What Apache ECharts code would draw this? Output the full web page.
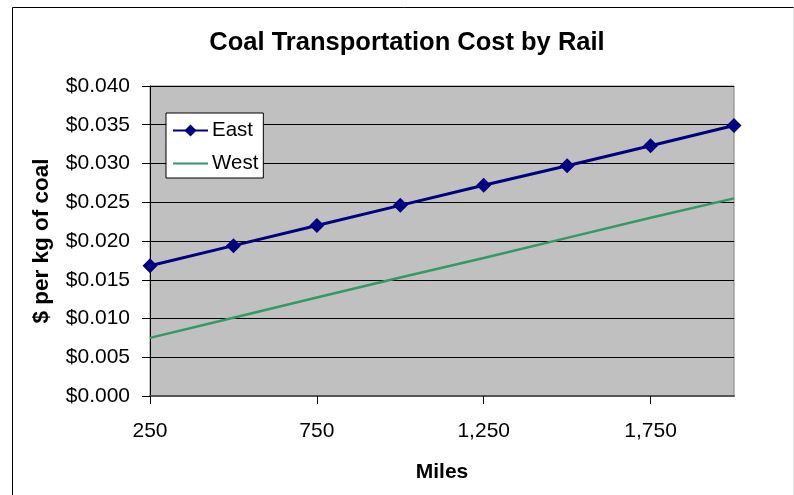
<!DOCTYPE html>
<html>
<head>
<meta charset="utf-8">
<script src="https://cdn.jsdelivr.net/npm/echarts@6/dist/echarts.min.js"></script>
<style>
html,body{margin:0;padding:0;background:#fff;}
#chart{width:794px;height:495px;}
</style>
</head>
<body>
<div id="chart"></div>
<script>
const miles = [250, 500, 750, 1000, 1250, 1500, 1750, 2000];
const eastCost = [0.0168, 0.0194, 0.0220, 0.0246, 0.0272, 0.0297, 0.0323, 0.0349];
const westCost = [0.0075, 0.0101, 0.0127, 0.0153, 0.0178, 0.0204, 0.0230, 0.0255];
const seriesNames = ['East', 'West'];
const titleText = 'Coal Transportation Cost by Rail';
const xName = 'Miles';
const yName = '$ per kg of coal';

const FONT = '"Liberation Sans", Arial, sans-serif';
const chart = echarts.init(document.getElementById('chart'), null, {renderer: 'canvas'});
chart.setOption({
  animation: false,
  backgroundColor: '#ffffff',
  textStyle: {fontFamily: FONT},
  title: {
    text: titleText,
    left: 407, top: 30, padding: 0,
    textAlign: 'center',
    textStyle: {fontFamily: FONT, fontSize: 25.5, fontWeight: 'bold', color: '#000'}
  },
  graphic: [
    {type: 'line', shape: {x1: 12.5, y1: 7.5, x2: 794, y2: 7.5}, style: {stroke: '#000', lineWidth: 1}, z: 100},
    {type: 'line', shape: {x1: 12.5, y1: 7.5, x2: 12.5, y2: 495}, style: {stroke: '#000', lineWidth: 1}, z: 100},
    {type: 'line', shape: {x1: 793.5, y1: 7.5, x2: 793.5, y2: 495}, style: {stroke: '#e6e6e6', lineWidth: 1}, z: 100}
  ],
  grid: {
    left: 150, right: 60, top: 86, bottom: 99,
    show: true, backgroundColor: '#c0c0c0', borderColor: '#808080', borderWidth: 1
  },
  legend: {
    left: 166, top: 113,
    orient: 'vertical',
    backgroundColor: '#ffffff', borderColor: '#000', borderWidth: 1,
    padding: [7, 5, 4, 6],
    itemWidth: 35, itemHeight: 15, itemGap: 12,
    textStyle: {fontFamily: FONT, fontSize: 20.5, color: '#000', padding: [0, 0, 0, -1]},
    data: [
      {name: seriesNames[0]},
      {name: seriesNames[1], itemStyle: {opacity: 0}}
    ]
  },
  xAxis: {
    type: 'category',
    boundaryGap: false,
    data: miles.map(m => m.toLocaleString('en-US')),
    name: xName, nameLocation: 'middle', nameGap: 66,
    nameTextStyle: {fontFamily: FONT, fontSize: 21, fontWeight: 'bold', color: '#000'},
    axisLine: {show: true, lineStyle: {color: '#555', width: 2}},
    axisTick: {show: true, interval: 1, length: 8, lineStyle: {color: '#000'}},
    axisLabel: {interval: 1, margin: 25, fontFamily: FONT, fontSize: 21, color: '#000'},
    splitLine: {show: false}
  },
  yAxis: {
    type: 'value',
    min: 0, max: 0.04, interval: 0.005,
    name: yName, nameLocation: 'middle', nameGap: 97, nameRotate: 90,
    nameTextStyle: {fontFamily: FONT, fontSize: 22.5, fontWeight: 'bold', color: '#000'},
    axisLine: {show: true, lineStyle: {color: '#000', width: 1}},
    axisTick: {show: true, length: 8, lineStyle: {color: '#000'}},
    axisLabel: {margin: 20, fontFamily: FONT, fontSize: 21, color: '#000',
      formatter: v => '$' + v.toFixed(3)},
    splitLine: {show: true, lineStyle: {color: '#000', width: 1}}
  },
  series: [
    {
      name: seriesNames[0], type: 'line', data: eastCost,
      symbol: 'diamond', symbolSize: 15,
      lineStyle: {color: '#000080', width: 3},
      itemStyle: {color: '#000080'},
      z: 3
    },
    {
      name: seriesNames[1], type: 'line', data: westCost,
      symbol: 'none', showSymbol: false,
      lineStyle: {color: '#339966', width: 2.5},
      itemStyle: {color: '#339966'},
      z: 2
    }
  ]
});
</script>
</body>
</html>
